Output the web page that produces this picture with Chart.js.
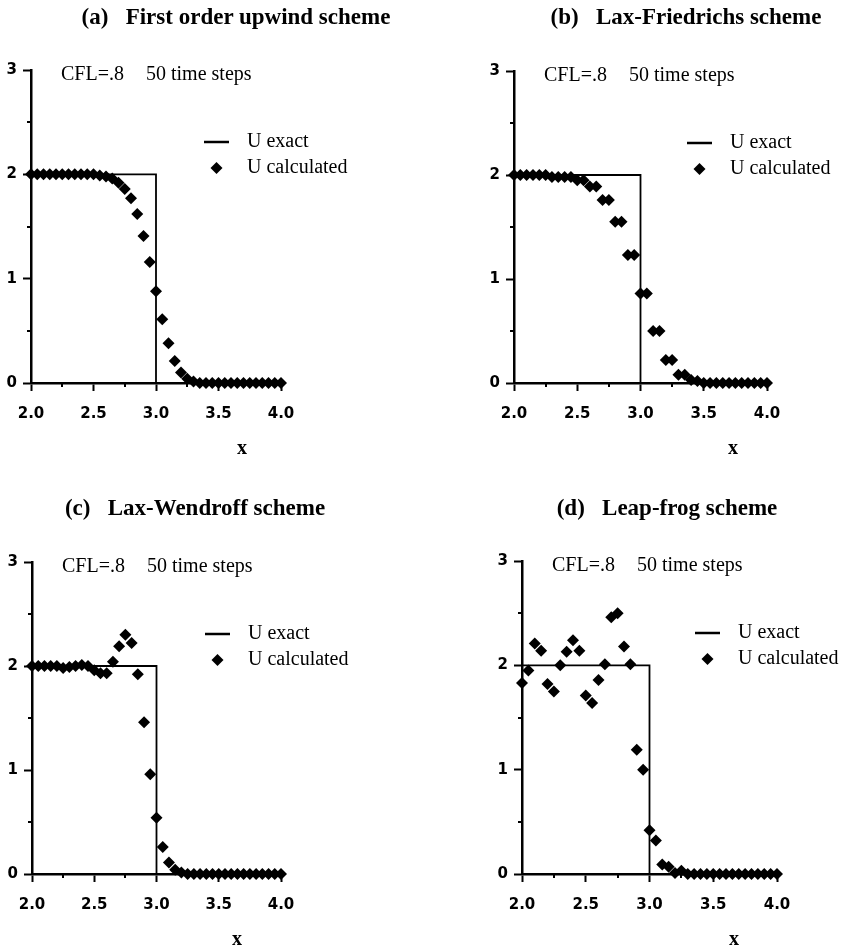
<!DOCTYPE html>
<html>
<head>
<meta charset="utf-8">
<title>Schemes, CFL=.8, 50 time steps</title>
<script src="https://cdn.jsdelivr.net/npm/chart.js@4/dist/chart.umd.min.js"></script>
<style>
  body { margin: 0; background: #fff; }
  #page { position: relative; width: 847px; height: 947px; overflow: hidden; }
  .cell { position: absolute; width: 423px; height: 470px; }
  .title, .xlabel {
    position: absolute; white-space: pre; color: #000;
    font-family: "Liberation Serif", "Times New Roman", serif; font-weight: bold;
    transform: translate(-50%, -50%);
  }
  .title { font-size: 23px; }
  .xlabel { font-size: 20px; }
</style>
</head>
<body>
<div id="page"></div>
<script>
// x positions of the grid points
const xPoints = [2.00, 2.05, 2.10, 2.15, 2.20, 2.25, 2.30, 2.35, 2.40, 2.45,
                 2.50, 2.55, 2.60, 2.65, 2.70, 2.75, 2.80, 2.85, 2.90, 2.95,
                 3.00, 3.05, 3.10, 3.15, 3.20, 3.25, 3.30, 3.35, 3.40, 3.45,
                 3.50, 3.55, 3.60, 3.65, 3.70, 3.75, 3.80, 3.85, 3.90, 3.95, 4.00];

// exact solution (step)
const exactX = [2, 2, 3, 3, 4];
const exactU = [0, 2, 2, 0, 0];

// calculated values
const upwindU = [2, 2, 2, 2, 2, 2, 2, 2, 2, 2,
                 2, 1.99, 1.98, 1.96, 1.92, 1.86, 1.77, 1.62, 1.41, 1.16,
                 0.88, 0.61, 0.38, 0.21, 0.10, 0.04, 0.015, 0, 0, 0,
                 0, 0, 0, 0, 0, 0, 0, 0, 0, 0, 0];
const laxFriedrichsU = [2, 2, 2, 2, 2, 2, 1.98, 1.98, 1.98, 1.98,
                        1.95, 1.95, 1.89, 1.89, 1.76, 1.76, 1.55, 1.55, 1.23, 1.23,
                        0.86, 0.86, 0.50, 0.50, 0.22, 0.22, 0.08, 0.08, 0.03, 0.02,
                        0, 0, 0, 0, 0, 0, 0, 0, 0, 0, 0];
const laxWendroffU = [2, 2, 2, 2, 2, 1.98, 1.99, 2.0, 2.01, 2.0,
                      1.96, 1.93, 1.93, 2.04, 2.19, 2.30, 2.22, 1.92, 1.46, 0.96,
                      0.54, 0.26, 0.11, 0.04, 0.015, 0, 0, 0, 0, 0,
                      0, 0, 0, 0, 0, 0, 0, 0, 0, 0, 0];
const leapFrogU = [1.83, 1.95, 2.21, 2.14, 1.82, 1.75, 2.0, 2.13, 2.24, 2.14,
                   1.71, 1.64, 1.86, 2.01, 2.46, 2.50, 2.18, 2.01, 1.19, 1.0,
                   0.42, 0.32, 0.09, 0.07, 0.01, 0.03, 0, 0, 0, 0,
                   0, 0, 0, 0, 0, 0, 0, 0, 0, 0, 0];

// axis ticks
const xTicks = [2, 2.5, 3, 3.5, 4];
const xTickLabels = ['2.0', '2.5', '3.0', '3.5', '4.0'];
const xMinorTicks = [2.25, 2.75, 3.25, 3.75];
const yTicks = [0, 1, 2, 3];
const yTickLabels = ['0', '1', '2', '3'];
const yMinorTicks = [0.5, 1.5, 2.5];

const captionLeft = 'CFL=.8';
const captionRight = '50 time steps';
const legendExact = 'U exact';
const legendCalc = 'U calculated';

// panel layout (cell position, plot area inside the cell, title and x label)
const panels = [
  { title: '(a)   First order upwind scheme', values: upwindU, cellX: 0, cellY: 0,
    plot: { left: 31, right: 281, top: 70, bottom: 383 }, titleAt: [236, 17], xLabelAt: 242 },
  { title: '(b)   Lax-Friedrichs scheme', values: laxFriedrichsU, cellX: 424, cellY: 0,
    plot: { left: 90, right: 343, top: 71, bottom: 383 }, titleAt: [262, 17], xLabelAt: 309 },
  { title: '(c)   Lax-Wendroff scheme', values: laxWendroffU, cellX: 0, cellY: 470,
    plot: { left: 32, right: 281, top: 92, bottom: 404 }, titleAt: [195, 38], xLabelAt: 237 },
  { title: '(d)   Leap-frog scheme', values: leapFrogU, cellX: 424, cellY: 470,
    plot: { left: 98, right: 353, top: 91, bottom: 404 }, titleAt: [243, 38], xLabelAt: 310 }
];

const CELL_W = 423, CELL_H = 470;
const Y_AXIS_W = 28, X_AXIS_H = 40;
const TEXT_FONT = '20px "Liberation Serif", "Times New Roman", serif';
const TICK_FONT = { family: '"DejaVu Sans", sans-serif', size: 15, weight: 'bold' };
const MARK_R = 6;

// draws the minor ticks, the caption and the legend inside the plot
const overlayPlugin = {
  id: 'overlay',
  afterDraw(chart) {
    const ctx = chart.ctx;
    const a = chart.chartArea;
    const xs = chart.scales.x, ys = chart.scales.y;
    ctx.save();
    ctx.strokeStyle = '#000';
    ctx.fillStyle = '#000';

    ctx.lineWidth = 2;
    xMinorTicks.forEach(v => {
      const px = Math.round(xs.getPixelForValue(v));
      ctx.beginPath();
      ctx.moveTo(px, a.bottom);
      ctx.lineTo(px, a.bottom + 4);
      ctx.stroke();
    });
    yMinorTicks.forEach(v => {
      const py = Math.round(ys.getPixelForValue(v));
      ctx.beginPath();
      ctx.moveTo(a.left, py);
      ctx.lineTo(a.left - 4, py);
      ctx.stroke();
    });

    ctx.font = TEXT_FONT;
    ctx.textBaseline = 'middle';
    ctx.textAlign = 'left';
    ctx.fillText(captionLeft, a.left + 30, a.top + 5);
    ctx.fillText(captionRight, a.left + 115, a.top + 5);

    // legend
    const row1 = a.top + 72, row2 = a.top + 98;
    ctx.lineWidth = 2.5;
    ctx.beginPath();
    ctx.moveTo(a.left + 173, row1);
    ctx.lineTo(a.left + 198, row1);
    ctx.stroke();
    const cx = a.left + 185.5, r = MARK_R;
    ctx.beginPath();
    ctx.moveTo(cx - r, row2);
    ctx.lineTo(cx, row2 - r);
    ctx.lineTo(cx + r, row2);
    ctx.lineTo(cx, row2 + r);
    ctx.closePath();
    ctx.fill();
    ctx.fillText(legendExact, a.left + 216, row1);
    ctx.fillText(legendCalc, a.left + 216, row2);
    ctx.restore();
  }
};

const page = document.getElementById('page');

panels.forEach(p => {
  const cell = document.createElement('div');
  cell.className = 'cell';
  cell.style.left = p.cellX + 'px';
  cell.style.top = p.cellY + 'px';

  const canvas = document.createElement('canvas');
  canvas.width = CELL_W;
  canvas.height = CELL_H;
  canvas.style.position = 'absolute';
  canvas.style.left = '0px';
  canvas.style.top = '0px';
  cell.appendChild(canvas);

  const title = document.createElement('div');
  title.className = 'title';
  title.textContent = p.title;
  title.style.left = p.titleAt[0] + 'px';
  title.style.top = p.titleAt[1] + 'px';
  cell.appendChild(title);

  const xl = document.createElement('div');
  xl.className = 'xlabel';
  xl.textContent = 'x';
  xl.style.left = p.xLabelAt + 'px';
  xl.style.top = (p.plot.bottom + 64) + 'px';
  cell.appendChild(xl);

  page.appendChild(cell);

  new Chart(canvas.getContext('2d'), {
    type: 'scatter',
    data: {
      datasets: [
        {
          label: legendCalc,
          data: xPoints.map((x, i) => ({ x: x, y: p.values[i] })),
          pointStyle: 'rectRot',
          pointRadius: MARK_R,
          pointBackgroundColor: '#000',
          pointBorderWidth: 0,
          showLine: false,
          clip: false,
          order: 0
        },
        {
          label: legendExact,
          data: exactX.map((x, i) => ({ x: x, y: exactU[i] })),
          showLine: true,
          borderColor: '#000',
          borderWidth: 1.8,
          pointRadius: 0,
          tension: 0,
          clip: false,
          order: 1
        }
      ]
    },
    options: {
      responsive: false,
      animation: false,
      events: [],
      layout: {
        padding: {
          left: p.plot.left - Y_AXIS_W,
          top: p.plot.top,
          right: CELL_W - p.plot.right,
          bottom: CELL_H - p.plot.bottom - X_AXIS_H
        }
      },
      plugins: {
        legend: { display: false },
        tooltip: { enabled: false }
      },
      scales: {
        x: {
          type: 'linear',
          min: 2,
          max: 4,
          afterFit: s => { s.height = X_AXIS_H; },
          afterBuildTicks: s => { s.ticks = xTicks.map(v => ({ value: v })); },
          border: { color: '#000', width: 2.5 },
          grid: { drawOnChartArea: false, tickLength: 8, tickColor: '#000', tickWidth: 2 },
          ticks: {
            padding: 14,
            color: '#000',
            maxRotation: 0,
            font: TICK_FONT,
            callback: v => xTickLabels[xTicks.indexOf(v)]
          }
        },
        y: {
          type: 'linear',
          min: 0,
          max: 3,
          afterFit: s => { s.width = Y_AXIS_W; },
          afterBuildTicks: s => { s.ticks = yTicks.map(v => ({ value: v })); },
          border: { color: '#000', width: 2.5 },
          grid: { drawOnChartArea: false, tickLength: 8, tickColor: '#000', tickWidth: 2 },
          ticks: {
            padding: 6,
            color: '#000',
            font: TICK_FONT,
            callback: v => yTickLabels[yTicks.indexOf(v)]
          }
        }
      }
    },
    plugins: [overlayPlugin]
  });
});
</script>
</body>
</html>
